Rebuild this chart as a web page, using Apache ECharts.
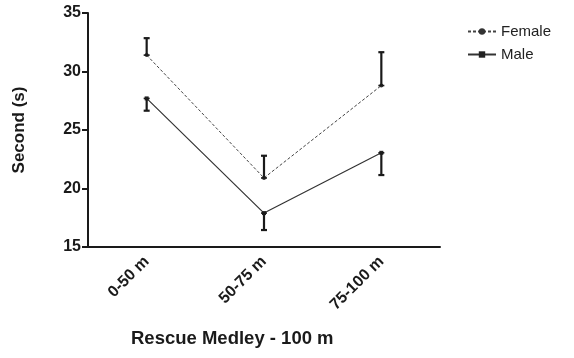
<!DOCTYPE html>
<html>
<head>
<meta charset="utf-8">
<script src="https://cdn.jsdelivr.net/npm/echarts@6/dist/echarts.min.js"></script>
<style>
  html, body { margin: 0; padding: 0; background: #fff; }
  #chart { width: 574px; height: 358px; }
</style>
</head>
<body>
<div id="chart"></div>
<script>
// Split times per segment of the 100 m rescue medley
const segments = ['0-50 m', '50-75 m', '75-100 m'];
const femaleMean = [31.4, 20.9, 28.8];
const femaleSD = [1.45, 1.9, 2.85];
const maleMean = [27.7, 17.9, 23.05];
const maleSD = [1.05, 1.45, 1.9];
const yTicks = [15, 20, 25, 30, 35];

const ink = '#1a1a1a';
const font = 'Liberation Sans, Arial, sans-serif';

// One-sided error bars: direction +1 draws upward, -1 downward
function errorBars(means, sds, dir) {
  return {
    type: 'custom',
    silent: true,
    z: 5,
    data: means.map((m, i) => [i, m, m + dir * sds[i]]),
    renderItem: function (params, api) {
      const a = api.coord([api.value(0), api.value(1)]);
      const b = api.coord([api.value(0), api.value(2)]);
      const half = 3;
      const style = { stroke: ink, lineWidth: 2.2 };
      return {
        type: 'group',
        children: [
          { type: 'line', shape: { x1: a[0], y1: a[1], x2: b[0], y2: b[1] }, style: style },
          { type: 'line', shape: { x1: b[0] - half, y1: b[1], x2: b[0] + half, y2: b[1] }, style: style },
          { type: 'line', shape: { x1: a[0] - half, y1: a[1], x2: a[0] + half, y2: a[1] }, style: { stroke: ink, lineWidth: 1.6 } }
        ]
      };
    }
  };
}

const chart = echarts.init(document.getElementById('chart'));
chart.setOption({
  animation: false,
  backgroundColor: '#ffffff',
  grid: { left: 88, right: 134, top: 13, bottom: 111, containLabel: false },
  legend: {
    orient: 'vertical',
    left: 462,
    top: 19,
    itemWidth: 28,
    itemHeight: 8,
    itemGap: 8,
    textStyle: { fontFamily: font, fontSize: 15, color: '#222' },
    data: ['Female', 'Male']
  },
  xAxis: {
    type: 'category',
    data: segments,
    boundaryGap: true,
    axisLine: { lineStyle: { color: ink, width: 2 } },
    axisTick: { alignWithLabel: true, length: 6, lineStyle: { color: ink, width: 2 } },
    axisLabel: {
      rotate: 45,
      margin: 12,
      fontFamily: font,
      fontSize: 16,
      fontWeight: 'bold',
      color: ink
    }
  },
  yAxis: {
    type: 'value',
    min: yTicks[0],
    max: yTicks[yTicks.length - 1],
    interval: 5,
    name: 'Second (s)',
    nameLocation: 'middle',
    nameGap: 60,
    nameTextStyle: { fontFamily: font, fontSize: 17, fontWeight: 'bold', color: ink },
    splitLine: { show: false },
    axisLine: { show: true, lineStyle: { color: ink, width: 2 } },
    axisTick: { show: true, length: 6, lineStyle: { color: ink, width: 2 } },
    axisLabel: { margin: 7, fontFamily: font, fontSize: 16, fontWeight: 'bold', color: ink }
  },
  graphic: [{
    type: 'text',
    left: 131,
    top: 329,
    style: {
      text: 'Rescue Medley - 100 m',
      fontFamily: font,
      fontSize: 18.5,
      fontWeight: 'bold',
      fill: ink
    }
  }],
  series: [
    {
      name: 'Female',
      type: 'line',
      data: femaleMean,
      symbol: 'circle',
      symbolSize: 4,
      itemStyle: { color: '#333' },
      lineStyle: { color: '#444', width: 1, type: [3, 2] },
      z: 3
    },
    {
      name: 'Male',
      type: 'line',
      data: maleMean,
      symbol: 'rect',
      symbolSize: 4,
      itemStyle: { color: '#222' },
      lineStyle: { color: '#333', width: 1.2 },
      z: 3
    },
    errorBars(femaleMean, femaleSD, 1),
    errorBars(maleMean, maleSD, -1)
  ]
});
</script>
</body>
</html>
